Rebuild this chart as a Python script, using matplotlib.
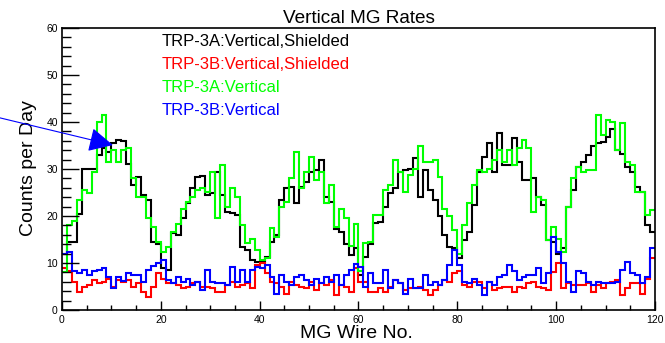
import numpy as np
import matplotlib
matplotlib.use("Agg")
import matplotlib.pyplot as plt

# per-wire counts per day, 120 wires (bins 0..120)
edges = np.arange(0, 121)

trp3a_shielded = [
    12, 14.5, 14.5, 20.5, 30, 30, 30, 33, 34.5, 33.7,
    35.5, 36.2, 36, 31, 26.6, 28.4, 24.5, 23.4, 14.5, 14,
    9, 8.5, 16.3, 16, 19.5, 22.7, 25.9, 28.4, 28.5, 24.5,
    24.8, 29.4, 24.5, 20.9, 20.6, 20.2, 13.5, 12.8, 10.6, 10.3,
    10.3, 11.3, 14.5, 16, 23.4, 25.9, 26.2, 22.7, 26.2, 27.3,
    29.4, 29.8, 31.9, 24.1, 23, 17.2, 16.7, 14, 11.7, 13.1,
    7.5, 11.3, 14, 18.5, 18.8, 22, 25, 26, 29.4, 29.8,
    30, 32.3, 24, 29.8, 25.5, 23.4, 20, 16, 13.5, 13.2,
    11, 14.9, 16.7, 22.3, 29.4, 32.6, 35.5, 29.4, 37.6, 30.9,
    30.9, 36.5, 31.6, 27.7, 27.7, 28, 24.1, 22.3, 14.9, 14.5,
    12, 13.1, 22, 25.5, 30.5, 31.6, 33, 34.8, 35.5, 35.8,
    36.9, 38.5, 34, 33.3, 30.5, 29.4, 26.2, 25.2, 18.1, 16.7,
]

trp3b_shielded = [
    9, 8.2, 6, 3.8, 5, 5.3, 6.4, 5.7, 6, 6.7,
    5, 6.4, 6, 6.4, 5, 5.7, 3.9, 2.8, 5, 7.8,
    6.5, 5.7, 5.7, 5.3, 4.6, 5, 5.7, 6, 5, 5,
    4.6, 3.9, 3.9, 5.3, 6, 5, 5.3, 5.7, 4.6, 9.6,
    9.9, 7.8, 6, 5.7, 5, 3.5, 6, 5.3, 5, 4.6,
    6, 4.3, 5.7, 5.3, 6.4, 3.2, 5.3, 5, 3.9, 9,
    6, 6, 3.9, 3.9, 4.6, 3.9, 5, 6.4, 5.7, 4.3,
    4.6, 4.6, 5, 4.3, 3.2, 4.3, 5.3, 6.4, 6, 7.8,
    8.2, 5.3, 5, 6, 6, 4.6, 6, 4.3, 4.6, 5,
    5, 3.9, 5, 4.6, 5.7, 6, 5, 4.6, 4.3, 8,
    10, 4.6, 5.7, 5.3, 5.3, 5.3, 5.7, 3.9, 5.3, 4.6,
    5.7, 6, 6.4, 3.2, 4.6, 5.7, 5.7, 3.5, 6.7, 11,
]

trp3a_open = [
    8, 18, 19, 23.4, 25.5, 24.8, 29.4, 40, 41.5, 31.6,
    34, 31.6, 34, 34.4, 28, 24, 24, 19.5, 17.7, 14.5,
    12.4, 13.5, 16.7, 18.4, 21.6, 23, 24.1, 25.5, 25.9, 25.2,
    29.4, 19.5, 30.9, 22, 25.9, 24.1, 18.1, 14.2, 15.2, 12.8,
    10.6, 11, 17.4, 15.6, 22, 23, 28, 33.7, 25.9, 29.4,
    32.6, 27.7, 29.4, 22.7, 26.6, 17.7, 21.6, 19.5, 13.6, 18.3,
    8.2, 14.2, 14.5, 20.2, 20.2, 25.5, 26.6, 32, 29.4, 25.2,
    28.7, 30, 34.8, 31.6, 31.6, 32, 28.4, 21.6, 19.9, 17,
    12, 18.1, 22.7, 26.6, 29.8, 29.4, 30.1, 31.9, 34, 31.6,
    34, 30.9, 34.4, 36.2, 34.4, 20.9, 24.1, 23.4, 14.9, 17.7,
    15.2, 12.4, 22, 28, 30.5, 29.4, 29.8, 29.8, 41.5, 37.2,
    40.4, 40.1, 34, 39.7, 31.6, 30.9, 25.2, 25.2, 20.2, 21.3,
]

trp3b_open = [
    12, 12.4, 8.2, 7.8, 8.5, 7.4, 8.2, 8.5, 8.9, 7.1,
    4.6, 7.1, 6.2, 7.8, 7.5, 7.5, 5.9, 8.5, 9.4, 10.1,
    10.6, 6.4, 5.7, 7.1, 6, 6.7, 5.3, 6, 4.3, 8.5,
    6, 5.7, 5.7, 5.3, 9.2, 6, 8.5, 6, 8.5, 9.2,
    8.9, 9.6, 7.1, 3.5, 7.4, 6, 5.3, 7.1, 7.4, 6.4,
    5.3, 6.7, 5.7, 7.1, 6, 7.4, 5.3, 7.4, 8.5, 9.8,
    9.2, 5, 7.8, 5.7, 5.7, 8.5, 4.6, 6.4, 5.7, 3.5,
    6.7, 4.6, 4.6, 7.4, 5.3, 6, 5.3, 6.4, 9.6, 12.8,
    9.5, 6, 5.7, 6.7, 5.3, 3.2, 6, 5.3, 7.1, 7.4,
    9.6, 8.2, 6.4, 7.1, 7.4, 7.4, 8.9, 5.7, 7.8, 15.6,
    12.4, 9.9, 6, 3.9, 8.2, 7.8, 6, 5.3, 6, 5.7,
    5.7, 5.7, 6, 8.5, 10.3, 7.8, 7.4, 5.7, 7.1, 13.1,
]

labels = ["TRP-3A:Vertical,Shielded", "TRP-3B:Vertical,Shielded",
          "TRP-3A:Vertical", "TRP-3B:Vertical"]
colors = ["black", "red", "#00ff00", "blue"]

# pointer from the left margin onto the first TRP-3A peak
arrow_tail = (-12.6, 40.9)
arrow_tip = (10.3, 35.1)

plt.rcParams["font.family"] = ["Liberation Sans", "DejaVu Sans"]

fig = plt.figure(figsize=(6.65, 3.43), dpi=100)
ax = fig.add_axes([0.0932, 0.0962, 0.8917, 0.822])

for vals, col in zip([trp3a_shielded, trp3b_shielded, trp3a_open, trp3b_open], colors):
    ax.stairs(vals, edges, baseline=None, color=col, lw=1.5)

ax.set_xlim(0, 120)
ax.set_ylim(0, 60)
ax.set_xticks(np.arange(0, 121, 20))
ax.set_xticks(np.arange(0, 121, 5), minor=True)
ax.set_yticks(np.arange(0, 61, 10))
ax.set_yticks(np.arange(0, 61, 2), minor=True)
ax.tick_params(axis="both", which="both", direction="in", top=False, right=False,
               labelsize=7.5, width=1.0)
ax.tick_params(axis="y", which="major", length=12, pad=3)
ax.tick_params(axis="y", which="minor", length=6.5)
ax.tick_params(axis="x", which="major", length=6.5, pad=3.5)
ax.tick_params(axis="x", which="minor", length=3.6)
for sp in ax.spines.values():
    sp.set_linewidth(1.2)

ax.set_title("Vertical MG Rates", fontsize=13.7, pad=4)
ax.set_xlabel("MG Wire No.", fontsize=14)
ax.set_ylabel("Counts per Day", fontsize=14)
ax.xaxis.set_label_coords(0.497, -0.053)
ax.yaxis.set_label_coords(-0.042, 0.502)

for i, (lab, col) in enumerate(zip(labels, colors)):
    ax.text(0.1686, 0.953 - i * 0.0815, lab, color=col, fontsize=12,
            transform=ax.transAxes, ha="left", va="center")

ax.annotate("", xy=arrow_tip, xytext=arrow_tail, annotation_clip=False,
            arrowprops=dict(arrowstyle="-|>,head_length=1.5,head_width=0.75",
                            color="blue", lw=0.8, mutation_scale=10,
                            shrinkA=0, shrinkB=0))

fig.savefig("out.png", dpi=100)
